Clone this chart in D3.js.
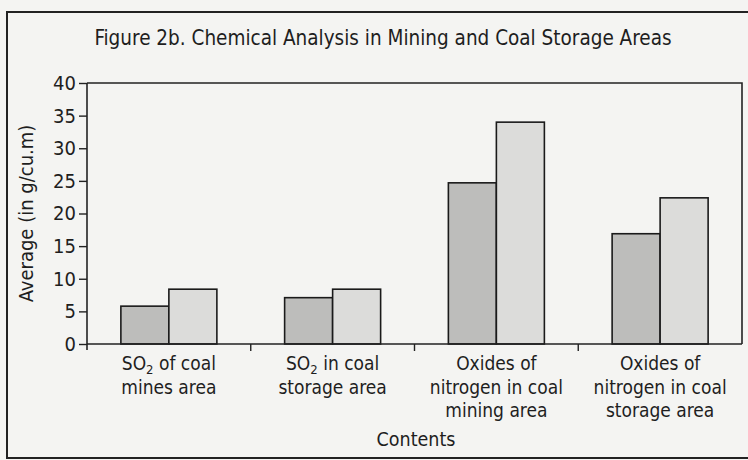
<!DOCTYPE html>
<html><head><meta charset="utf-8">
<script src="https://cdn.jsdelivr.net/npm/d3@7"></script>
<style>body{margin:0;background:#f4f4f2;} svg{display:block;} text{font-family:"DejaVu Sans Condensed","Liberation Sans Narrow",sans-serif;fill:#1e1e1e;}</style>
</head><body>
<svg id="c" width="748" height="460"></svg>
<script>
const categories = [
  ["SO|2| of coal", "mines area"],
  ["SO|2| in coal", "storage area"],
  ["Oxides of", "nitrogen in coal", "mining area"],
  ["Oxides of", "nitrogen in coal", "storage area"]
];
const seriesNames = ["A", "B"];
const seriesA = [5.8, 7.1, 24.7, 16.9];
const seriesB = [8.4, 8.4, 34.0, 22.4];
const yTicks = [0, 5, 10, 15, 20, 25, 30, 35, 40];
const title = "Figure 2b. Chemical Analysis in Mining and Coal Storage Areas";
const yTitle = "Average (in g/cu.m)";
const xTitle = "Contents";
const colors = ["#bdbdbb", "#dcdcda"];

const svg = d3.select("#c");
const L = 87, R = 742, T = 83, B = 344;

// outer frame
svg.append("rect").attr("x", 7).attr("y", 12).attr("width", 780).attr("height", 446)
  .attr("fill", "none").attr("stroke", "#222").attr("stroke-width", 2);

svg.append("text").attr("x", 383).attr("y", 45).attr("text-anchor", "middle")
  .attr("font-size", 20.5).text(title);

const idx = d3.range(categories.length);
const x0 = d3.scaleBand().domain(idx).range([L, R]);
const bw = x0.bandwidth();
const x1 = d3.scaleBand().domain(seriesNames).range([bw / 2 - 48, bw / 2 + 48]);
const y = d3.scaleLinear().domain([0, 40]).range([B, T]);

// plot frame top/right
svg.append("path").attr("d", `M${L},${T}H${R}V${B}`).attr("fill", "none")
  .attr("stroke", "#222").attr("stroke-width", 1.6);

const data = idx.map(i => ({i, vals: [seriesA[i], seriesB[i]]}));
const g = svg.append("g");
data.forEach(d => {
  d.vals.forEach((v, k) => {
    g.append("rect")
      .attr("x", x0(d.i) + x1(seriesNames[k]))
      .attr("y", y(v))
      .attr("width", x1.bandwidth())
      .attr("height", y(0) - y(v))
      .attr("fill", colors[k])
      .attr("stroke", "#1a1a1a").attr("stroke-width", 1.6);
  });
});

// y axis
const yAxis = svg.append("g").attr("transform", `translate(${L},0)`)
  .call(d3.axisLeft(y).tickValues(yTicks).tickSize(8).tickPadding(3));
yAxis.select(".domain").attr("stroke", "#222").attr("stroke-width", 1.6).attr("d", `M0,${T}V${B + 6}`);
yAxis.selectAll(".tick line").attr("stroke", "#222").attr("stroke-width", 1.4);
yAxis.selectAll("text").attr("font-size", 20).attr("fill", "#1e1e1e")
  .style("font-family", '"DejaVu Sans Condensed",sans-serif');

// x axis
const xAxisG = svg.append("g");
xAxisG.append("line").attr("x1", L).attr("x2", R).attr("y1", B).attr("y2", B)
  .attr("stroke", "#222").attr("stroke-width", 1.6);
idx.slice(1).forEach(i => {
  xAxisG.append("line").attr("x1", x0(i)).attr("x2", x0(i)).attr("y1", B).attr("y2", B + 7)
    .attr("stroke", "#222").attr("stroke-width", 1.4);
});

// x labels, one text per line
categories.forEach((lines, i) => {
  const cx = x0(i) + bw / 2;
  lines.forEach((ln, j) => {
    const t = svg.append("text").attr("text-anchor", "middle").attr("font-size", 19)
      .attr("x", cx).attr("y", 370 + j * 23.5);
    const parts = ln.split("|");
    if (parts.length === 3) {
      t.append("tspan").text(parts[0]);
      t.append("tspan").attr("font-size", 13).attr("dy", 4).text(parts[1]);
      t.append("tspan").attr("dy", -4).text(parts[2]);
    } else t.text(ln);
  });
});

svg.append("text").attr("x", 416).attr("y", 446).attr("text-anchor", "middle")
  .attr("font-size", 19.5).text(xTitle);

svg.append("text").attr("transform", `translate(33,${(T + B) / 2}) rotate(-90)`)
  .attr("text-anchor", "middle").attr("font-size", 20).text(yTitle);
</script>
</body></html>
